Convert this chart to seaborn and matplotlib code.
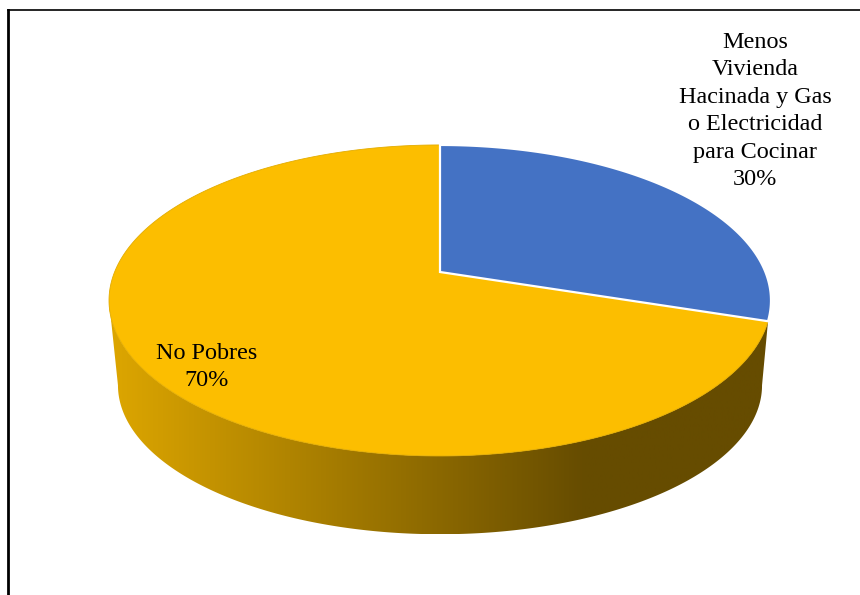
import numpy as np
import matplotlib
matplotlib.use("Agg")
import matplotlib.pyplot as plt
from matplotlib.colors import LinearSegmentedColormap
from matplotlib.patches import Polygon
import seaborn as sns

# Shares of households, clockwise from twelve o'clock
categories = ["Menos\nVivienda\nHacinada y Gas\no Electricidad\npara Cocinar", "No Pobres"]
shares = [30, 70]
slice_colors = ["#4472C4", "#FCBE00"]
side_stops = [(0.0, "#DDA600"), (0.72, "#664C00"), (1.0, "#664C00")]

sns.set_theme(style="white")
plt.rcParams["font.family"] = ["Liberation Serif", "DejaVu Serif"]

W, H = 860, 595
fig = plt.figure(figsize=(W / 100, H / 100), dpi=100, facecolor="white")
ax = fig.add_axes([8 / W, 0, (W - 8) / W, (H - 10) / H])
ax.set_xlim(8, W)
ax.set_ylim(H, 10)
ax.set_xticks([])
ax.set_yticks([])
for name, spine in ax.spines.items():
    spine.set_visible(name in ("left", "top"))
    spine.set_color("black")
ax.spines["left"].set_linewidth(2.0)
ax.spines["top"].set_linewidth(1.2)

# Perspective projection of a flat disc on to the page
TILT = 0.183
CX = 440


def project(theta_deg, apex_y, rx, ry):
    t = np.radians(theta_deg)
    u, v = np.sin(t), np.cos(t)
    w = 1 + TILT * v
    return CX + rx * u / w, apex_y - ry * v / w


def top_face(theta):
    return project(theta, 272, 325.4, 150.3)


def base_face(theta):
    return project(theta, 358, 316.6, 144.0)


edges = np.cumsum([0] + shares) / sum(shares) * 360
left_tangent = np.degrees(np.arctan2(-np.sqrt(1 - TILT**2), -TILT)) % 360
right_tangent = 360 - left_tangent

# Side wall: horizontal shaded band clipped to the silhouette of the rim
top_arc = np.array(top_face(np.linspace(edges[1], left_tangent, 300))).T
base_arc = np.array(base_face(np.linspace(left_tangent, right_tangent, 300))).T
wall = Polygon(np.vstack([top_arc, base_arc]), closed=True, transform=ax.transData,
               facecolor="none", edgecolor="none")
ax.add_patch(wall)
cmap = LinearSegmentedColormap.from_list("rim", side_stops)
band = ax.imshow(np.linspace(0, 1, 512)[None, :], extent=(109, 771, 534, 145),
                 cmap=cmap, aspect="auto", zorder=1, vmin=0, vmax=1)
band.set_clip_path(wall)
ax.set_xlim(8, W)
ax.set_ylim(H, 10)

# Top face, gold slice first so the white outline of the blue slice stays on top
for i in (1, 0):
    thetas = np.linspace(edges[i], edges[i + 1], 300)
    xs, ys = top_face(thetas)
    ax.fill(np.r_[CX, xs], np.r_[272, ys], facecolor=slice_colors[i],
            edgecolor="white" if i == 0 else "#E3AC00",
            linewidth=1.6 if i == 0 else 0.6, zorder=2 + (1 - i))

label_style = dict(ha="center", va="center", fontsize=17.4, color="black",
                   linespacing=1.41, zorder=5)
ax.text(755, 111, f"{categories[0]}\n{shares[0]}%", **label_style)
ax.text(207, 367, f"{categories[1]}\n{shares[1]}%", **label_style)

fig.savefig("out.png", dpi=100, facecolor="white")
